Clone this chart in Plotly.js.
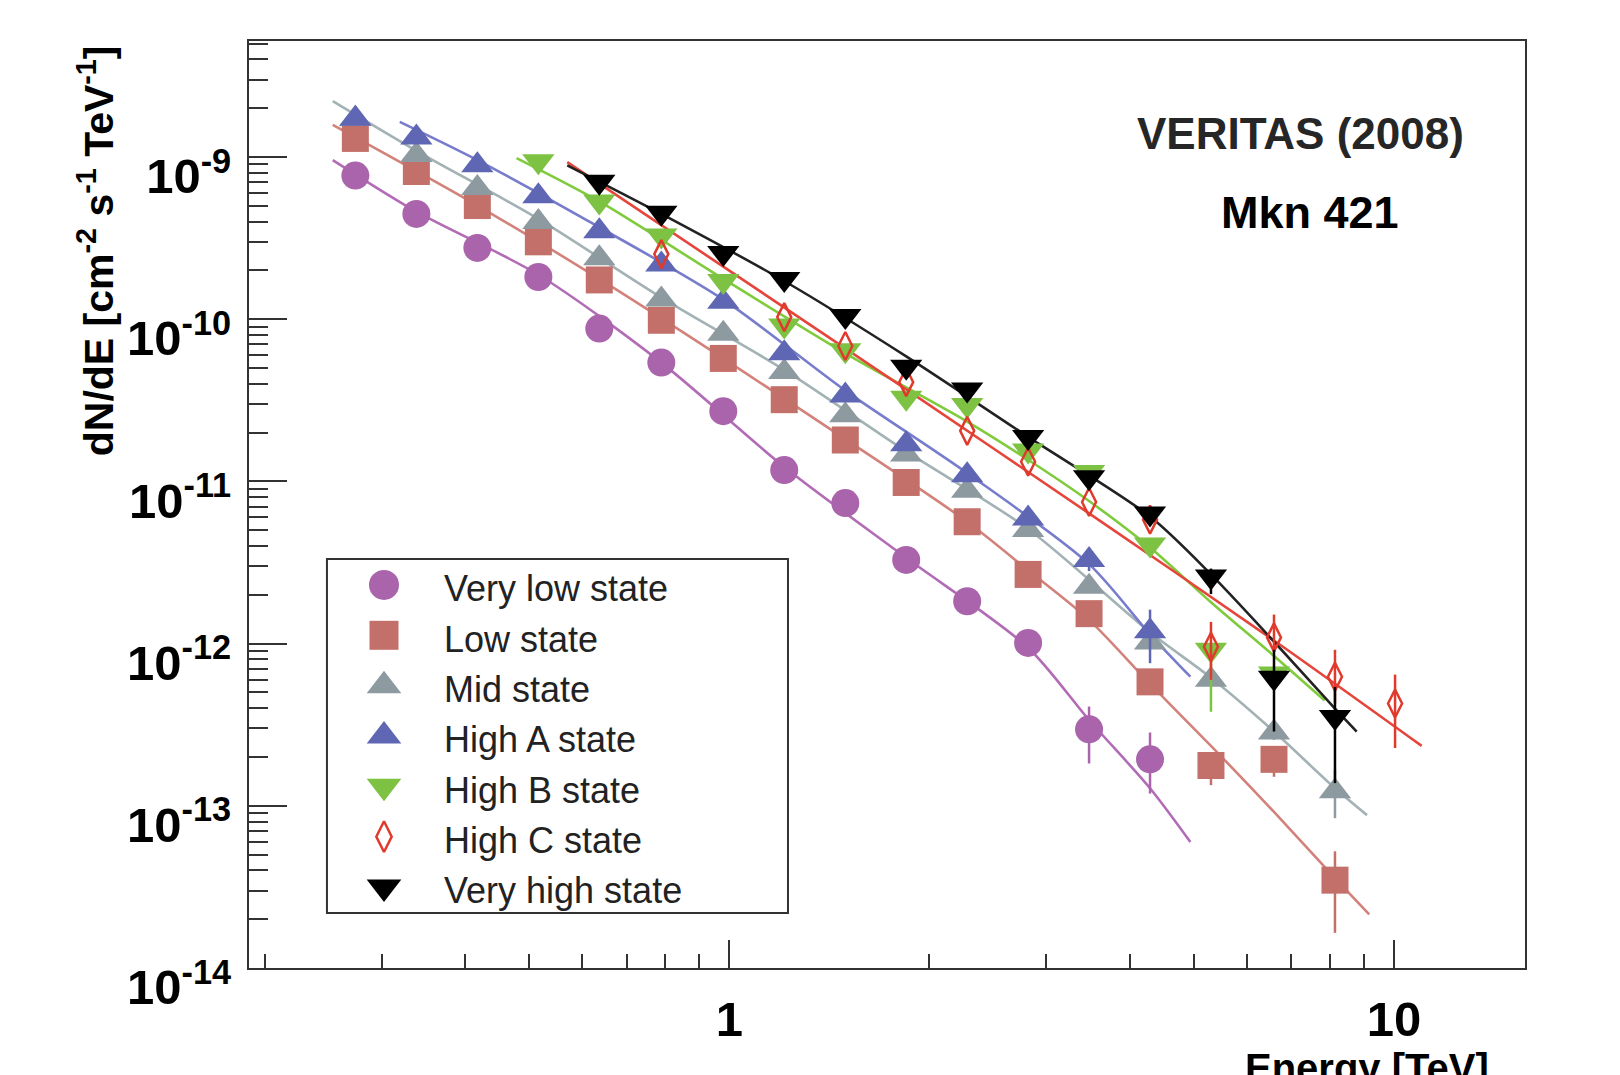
<!DOCTYPE html>
<html><head><meta charset="utf-8">
<script src="https://cdn.plot.ly/plotly-3.0.1.min.js"></script>
<style>html,body{margin:0;padding:0;background:#fff;}#chart{width:1620px;height:1075px;}</style>
</head><body><div id="chart"></div>
<script>
// ---- data ----
const energyBins = [0.2735, 0.3379, 0.4174, 0.5157, 0.6369, 0.7897, 0.9788, 1.209, 1.494, 1.845, 2.279, 2.815, 3.477, 4.295, 5.305, 6.600, 8.153, 10.04];

const seriesNames = ["Very low state", "Low state", "Mid state", "High A state", "High B state", "High C state", "Very high state"];

const veryLow  = [7.68e-10, 4.46e-10, 2.75e-10, 1.82e-10, 8.76e-11, 5.40e-11, 2.71e-11, 1.175e-11, 7.35e-12, 3.28e-12, 1.824e-12, 1.01e-12, 2.96e-13, 1.934e-13, null, null, null, null];
const low      = [1.302e-9, 8.14e-10, 5.02e-10, 3.00e-10, 1.746e-10, 9.85e-11, 5.73e-11, 3.19e-11, 1.80e-11, 9.85e-12, 5.64e-12, 2.67e-12, 1.53e-12, 5.81e-13, 1.772e-13, 1.934e-13, 3.48e-14, null];
const mid      = [1.72e-9, 1.03e-9, 6.44e-10, 3.97e-10, 2.376e-10, 1.321e-10, 8.14e-11, 4.73e-11, 2.56e-11, 1.464e-11, 8.76e-12, 5.02e-12, 2.24e-12, 1.015e-12, 5.98e-13, 2.83e-13, 1.228e-13, null];
const highA    = [1.72e-9, 1.321e-9, 8.89e-10, 5.73e-10, 3.48e-10, 2.176e-10, 1.283e-10, 6.16e-11, 3.38e-11, 1.696e-11, 1.092e-11, 5.90e-12, 3.28e-12, 1.192e-12, null, null, null, null];
const highB    = [null, null, null, 9.43e-10, 5.32e-10, 3.28e-10, 1.72e-10, 9.16e-11, 6.44e-11, 3.28e-11, 2.96e-11, 1.553e-11, 1.141e-11, 4.09e-12, 9.16e-13, 6.54e-13, null, null];
const highC    = [null, null, null, null, null, 2.52e-10, null, 1.03e-10, 6.83e-11, 4.09e-11, 2.05e-11, 1.321e-11, 7.46e-12, 5.81e-12, 9.57e-13, 1.092e-12, 6.25e-13, 4.27e-13];
const veryHigh = [null, null, null, null, 7.03e-10, 4.53e-10, 2.56e-10, 1.772e-10, 1.045e-10, 5.09e-11, 3.69e-11, 1.88e-11, 1.06e-11, 6.35e-12, 2.59e-12, 6.16e-13, 3.53e-13, null];

// upper / lower ends of the visible error bars (null = hidden under the marker)
const veryLowHi  = [null,null,null,null,null,null,null,null,null,null,null,null, 4.09e-13, 2.83e-13, null,null,null,null];
const veryLowLo  = [null,null,null,null,null,null,null,null,null,null,null,null, 1.824e-13, 1.19e-13, null,null,null,null];
const lowHi      = [null,null,null,null,null,null,null,null,null,null,null,null,null,null, 2.08e-13, 2.24e-13, 5.24e-14, null];
const lowLo      = [null,null,null,null,null,null,null,null,null,null,null,null,null,null, 1.34e-13, 1.51e-13, 1.647e-14, null];
const midHi      = [null,null,null,null,null,null,null,null,null,null,null,null,null,null,null, 3.1e-13, 1.67e-13, null];
const midLo      = [null,null,null,null,null,null,null,null,null,null,null,null,null,null,null, 2.55e-13, 8.39e-14, null];
const highAHi    = [null,null,null,null,null,null,null,null,null,null,null,null, 3.6e-12, 1.62e-12, null,null,null,null];
const highALo    = [null,null,null,null,null,null,null,null,null,null,null,null, 2.8e-12, 7.57e-13, null,null,null,null];
const highBHi    = [null,null,null,null,null,null,null,null,null,null,null,null,null,null, 1.015e-12, null,null,null];
const highBLo    = [null,null,null,null,null,null,null,null,null,null,null,null,null,null, 3.80e-13, null,null,null];
const highCHi    = [null,null,null,null,null,null,null,null,null,null,null,null,null,null, 1.36e-12, 1.51e-12, 9.16e-13, 6.44e-13];
const highCLo    = [null,null,null,null,null,null,null,null,null,null,null,null,null,null, 5.98e-13, 8.89e-13, 4.27e-13, 2.27e-13];
const veryHighHi = [null,null,null,null,null,null,null,null,null,null,null,null,null,null, 2.9e-12, 9.16e-13, 5.40e-13, null];
const veryHighLo = [null,null,null,null,null,null,null,null,null,null,null,null,null,null, 2.02e-12, 2.87e-13, 1.38e-13, null];

// fitted curves
const fitVeryLowE  = [0.2529, 0.3379, 0.5157, 0.7897, 1.209, 1.845, 2.815, 3.477, 4.295, 4.939];
const fitVeryLowF  = [9.57e-10, 4.60e-10, 1.88e-10, 5.40e-11, 1.228e-11, 3.38e-12, 9.43e-13, 3.38e-13, 1.283e-13, 5.98e-14];
const fitLowE      = [0.2529, 0.4174, 0.6369, 0.9788, 1.494, 2.279, 2.815, 3.477, 4.295, 5.305, 6.600, 8.153, 9.18];
const fitLowF      = [1.576e-9, 5.02e-10, 1.772e-10, 5.73e-11, 1.824e-11, 5.64e-12, 2.83e-12, 1.401e-12, 5.64e-13, 2.34e-13, 9.16e-14, 3.58e-14, 2.14e-14];
const fitMidE      = [0.2529, 0.3379, 0.5157, 0.7897, 1.209, 1.845, 2.815, 4.295, 5.305, 6.600, 8.153, 9.11];
const fitMidF      = [2.21e-9, 1.092e-9, 4.15e-10, 1.36e-10, 4.87e-11, 1.53e-11, 5.09e-12, 1.175e-12, 6.16e-13, 2.87e-13, 1.283e-13, 8.76e-14];
const fitHighAE    = [0.3190, 0.4174, 0.6369, 0.9788, 1.494, 2.279, 3.477, 4.295, 4.939];
const fitHighAF    = [1.647e-9, 9.57e-10, 3.69e-10, 1.321e-10, 3.63e-11, 1.125e-11, 3.09e-12, 1.141e-12, 6.25e-13];
const fitHighBE    = [0.4782, 0.6369, 0.9788, 1.494, 2.279, 2.815, 3.477, 4.295, 5.305, 6.600, 7.867];
const fitHighBF    = [9.85e-10, 5.32e-10, 1.772e-10, 6.16e-11, 2.34e-11, 1.36e-11, 7.57e-12, 3.91e-12, 1.80e-12, 8.39e-13, 4.46e-13];
const fitHighCE    = [0.5700, 0.9788, 1.845, 3.477, 6.600, 11.01];
const fitHighCF    = [9.29e-10, 2.11e-10, 3.69e-11, 6.35e-12, 1.045e-12, 2.34e-13];
const fitVeryHighE = [0.5700, 0.7897, 1.209, 1.845, 2.815, 4.295, 5.305, 6.577, 8.153, 8.79];
const fitVeryHighF = [8.89e-10, 4.46e-10, 1.72e-10, 5.90e-11, 1.88e-11, 6.07e-12, 2.67e-12, 1.045e-12, 3.97e-13, 2.87e-13];

// tick labels
const xTickVals = [1, 10];
const xTickText = ["1", "10"];
const yTickVals = [1e-14, 1e-13, 1e-12, 1e-11, 1e-10, 1e-9];
const yTickText = ["10<sup>-14</sup>", "10<sup>-13</sup>", "10<sup>-12</sup>", "10<sup>-11</sup>", "10<sup>-10</sup>", "10<sup>-9</sup>"];

// ---- styles ----
const FONT = "Liberation Sans, Arial, Helvetica, sans-serif";
const styles = [
  {sym: "circle",            size: 28, color: "#a964ab", line: "#b26cb6"},
  {sym: "square",            size: 27, color: "#c4706a", line: "#d2827a"},
  {sym: "triangle-up",       size: 28, color: "#8d9aa0", line: "#a3b2b4"},
  {sym: "triangle-up",       size: 28, color: "#5f67b4", line: "#777dcc"},
  {sym: "triangle-down",     size: 28, color: "#7dc242", line: "#7fcb3c"},
  {sym: "diamond-tall-open", size: 20, color: "#e03a2c", line: "#e5453a"},
  {sym: "triangle-down",     size: 28, color: "#000000", line: "#222222"}
];
const seriesVals = [veryLow, low, mid, highA, highB, highC, veryHigh];
const seriesHi = [veryLowHi, lowHi, midHi, highAHi, highBHi, highCHi, veryHighHi];
const seriesLo = [veryLowLo, lowLo, midLo, highALo, highBLo, highCLo, veryHighLo];
const fitsE = [fitVeryLowE, fitLowE, fitMidE, fitHighAE, fitHighBE, fitHighCE, fitVeryHighE];
const fitsF = [fitVeryLowF, fitLowF, fitMidF, fitHighAF, fitHighBF, fitHighCF, fitVeryHighF];

const traces = [];
// fitted curves first (under the markers)
fitsE.forEach((fe, k) => {
  traces.push({type: "scatter", mode: "lines", x: fe, y: fitsF[k],
    line: {color: styles[k].line, width: 2.6, shape: "spline", smoothing: 0.8},
    hoverinfo: "skip", showlegend: false});
});
// data points with error bars
seriesVals.forEach((vals, k) => {
  const hi = seriesHi[k], lo = seriesLo[k];
  traces.push({type: "scatter", mode: "markers", name: seriesNames[k],
    x: energyBins, y: vals,
    marker: {symbol: styles[k].sym, size: styles[k].size, color: styles[k].color,
             line: {color: styles[k].color, width: styles[k].sym.indexOf("open") >= 0 ? 2.5 : 0}},
    error_y: {type: "data", symmetric: false, visible: true, width: 0, thickness: 2.5, color: styles[k].color,
      array: vals.map((v, i) => (v != null && hi[i] != null) ? hi[i] - v : 0),
      arrayminus: vals.map((v, i) => (v != null && lo[i] != null) ? v - lo[i] : 0)},
    showlegend: false});
});
// hand-drawn legend markers on a [0,1] overlay axis pair
const legTop = 0.4132, legStep = 0.0543, legMarkX = 0.1058, legTextX = 0.1513;
seriesNames.forEach((nm, k) => {
  traces.push({type: "scatter", mode: "markers", xaxis: "x2", yaxis: "y2",
    x: [legMarkX], y: [legTop - k * legStep],
    marker: {symbol: styles[k].sym, size: styles[k].size + 2, color: styles[k].color,
             line: {color: styles[k].color, width: styles[k].sym.indexOf("open") >= 0 ? 2.5 : 0}},
    hoverinfo: "skip", showlegend: false});
});

// minor ticks
const xMinor = [];
[0.1, 1].forEach(d => { for (let m = 2; m <= 9; m++) xMinor.push(+(m * d).toPrecision(3)); });
const yMinor = [];
for (let e = -14; e <= -9; e++) { for (let m = 2; m <= 9; m++) { const v = m * Math.pow(10, e); if (v < 5.1e-9) yMinor.push(v); } }

const annotations = seriesNames.map((nm, k) => ({
  xref: "paper", yref: "paper", x: legTextX, y: legTop - k * legStep - 0.004,
  xanchor: "left", yanchor: "middle", showarrow: false, text: nm,
  font: {family: FONT, size: 36, color: "#222"}
}));
annotations.push(
  {xref: "paper", yref: "paper", x: 0.8237, y: 0.8997, xanchor: "center", yanchor: "middle", showarrow: false,
   text: "<b>VERITAS (2008)</b>", font: {family: FONT, size: 44, color: "#262626"}},
  {xref: "paper", yref: "paper", x: 0.8315, y: 0.8155, xanchor: "center", yanchor: "middle", showarrow: false,
   text: "<b>Mkn 421</b>", font: {family: FONT, size: 45, color: "#000"}},
  {xref: "paper", yref: "paper", x: 0.8761, y: -0.1084, xanchor: "center", yanchor: "middle", showarrow: false,
   text: "<b>Energy [TeV]</b>", font: {family: FONT, size: 40, color: "#000"}},
  {xref: "paper", yref: "paper", x: -0.1200, y: 0.998, xanchor: "center", yanchor: "top", showarrow: false, textangle: -90,
   text: "<b>dN/dE [cm<sup>-2</sup> s<sup>-1</sup> TeV<sup>-1</sup>]</b>", font: {family: FONT, size: 41, color: "#000"}}
);

const axisCommon = {showgrid: false, zeroline: false, showline: true, mirror: true, linecolor: "#333", linewidth: 2,
  ticks: "inside", tickwidth: 2, tickcolor: "#333", tickmode: "array"};

const layout = {
  width: 1620, height: 1075,
  margin: {l: 249, r: 95, t: 41, b: 107},
  paper_bgcolor: "#fff", plot_bgcolor: "rgba(0,0,0,0)",
  showlegend: false, hovermode: false,
  xaxis: Object.assign({}, axisCommon, {type: "log", range: [-0.7231, 1.1973],
    tickvals: xTickVals, ticktext: xTickText, ticklen: 28, ticklabelstandoff: 7,
    tickfont: {family: FONT, size: 49, color: "#000", weight: "bold"},
    minor: {ticks: "inside", tickmode: "array", tickvals: xMinor, ticklen: 14, tickwidth: 2, tickcolor: "#333", showgrid: false}}),
  yaxis: Object.assign({}, axisCommon, {type: "log", range: [-14, -8.2848],
    tickvals: yTickVals, ticktext: yTickText, ticklen: 38, ticklabelstandoff: 6, ticklabelshift: 19,
    tickfont: {family: FONT, size: 49, color: "#000", weight: "bold"},
    minor: {ticks: "inside", tickmode: "array", tickvals: yMinor, ticklen: 19, tickwidth: 2, tickcolor: "#333", showgrid: false}}),
  xaxis2: {overlaying: "x", range: [0, 1], visible: false, fixedrange: true},
  yaxis2: {overlaying: "y", range: [0, 1], visible: false, fixedrange: true},
  shapes: [{type: "rect", xref: "paper", yref: "paper", x0: 0.0611, x1: 0.4224, y0: 0.0593, y1: 0.4412,
            line: {color: "#333", width: 2}, fillcolor: "rgba(0,0,0,0)"}],
  annotations: annotations
};

Plotly.newPlot("chart", traces, layout, {staticPlot: true, displayModeBar: false});
</script>
</body></html>
